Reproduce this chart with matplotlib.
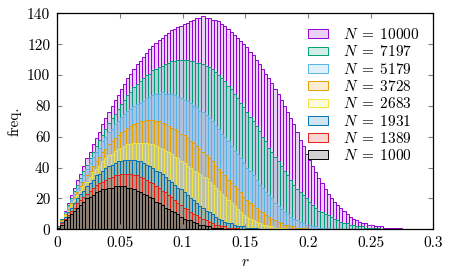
import numpy as np
import matplotlib
matplotlib.use("Agg")
import matplotlib.pyplot as plt
from matplotlib.ticker import MultipleLocator, FormatStrFormatter

plt.rcParams['font.family'] = 'serif'
plt.rcParams['font.serif'] = ['cmr10']
plt.rcParams['mathtext.fontset'] = 'cm'
plt.rcParams['axes.formatter.use_mathtext'] = True
plt.rcParams['font.size'] = 11

bin_width = 0.0025

labels = [r'$N\;=\;10000$', r'$N\;=\;7197$', r'$N\;=\;5179$', r'$N\;=\;3728$',
          r'$N\;=\;2683$', r'$N\;=\;1931$', r'$N\;=\;1389$', r'$N\;=\;1000$']
colors = ['#9400d3', '#009e73', '#56b4e9', '#e69f00',
          '#f0e442', '#0072b2', '#e51e10', '#000000']

# histogram counts per bin
n10000 = [2, 7, 12, 17, 22, 27, 32, 36, 41, 46, 50, 55, 59, 63, 68, 72, 76, 80, 84, 87,
          91, 94, 98, 101, 104, 107, 109, 112, 114, 117, 119, 121, 123, 124, 126, 127, 129, 130, 131, 132,
          133, 134, 135, 136, 137, 137, 138, 137, 137, 136, 136, 135, 133, 132, 130, 128, 126, 124, 122, 120,
          118, 115, 113, 110, 107, 104, 101, 98, 95, 91, 88, 84, 80, 76, 72, 68, 63, 58, 54, 49,
          45, 41, 37, 33, 30, 26, 23, 20, 18, 16, 14, 12, 10, 8, 7, 6, 5, 4, 4, 3,
          3, 2, 2, 2, 1, 1, 1, 1, 1, 1]
n7197 = [2, 7, 11, 16, 20, 25, 29, 33, 38, 42, 46, 50, 54, 58, 61, 65, 69, 72, 75, 78,
         81, 84, 87, 89, 92, 94, 96, 98, 100, 101, 103, 104, 105, 106, 107, 108, 109, 109, 110, 110,
         110, 110, 109, 109, 108, 108, 107, 106, 105, 104, 102, 100, 98, 96, 93, 91, 88, 85, 82, 79,
         76, 73, 70, 67, 64, 60, 57, 53, 50, 47, 44, 41, 38, 35, 32, 29, 26, 24, 22, 20,
         18, 16, 14, 12, 11, 10, 9, 8, 7, 6, 5, 4, 4, 3, 3, 2, 2, 2, 1, 1, 1, 1, 1]
n5179 = [2, 6, 11, 15, 19, 23, 27, 31, 35, 39, 43, 47, 50, 53, 57, 60, 63, 65, 68, 70,
         73, 75, 77, 78, 80, 81, 82, 83, 85, 86, 87, 88, 88, 89, 88, 88, 88, 87, 86, 85,
         84, 83, 82, 80, 79, 77, 76, 74, 72, 70, 67, 65, 62, 60, 57, 54, 51, 49, 46, 43,
         40, 38, 35, 32, 29, 27, 24, 22, 20, 17, 15, 13, 11, 10, 8, 7, 6, 5, 4, 3,
         3, 2, 2, 1, 1, 1, 1]
n3728 = [2, 6, 10, 13, 17, 21, 24, 28, 31, 35, 38, 41, 44, 47, 50, 52, 55, 57, 59, 61,
         63, 64, 66, 67, 68, 69, 70, 70, 71, 71, 71, 70, 70, 69, 68, 67, 66, 65, 64, 62,
         61, 59, 57, 56, 54, 52, 50, 48, 46, 44, 41, 39, 37, 35, 32, 30, 28, 26, 24, 21,
         19, 17, 16, 14, 12, 11, 9, 8, 7, 6, 5, 4, 3, 3, 2, 2, 1, 1, 1, 1]
n2683 = [2, 5, 9, 12, 16, 19, 22, 25, 28, 31, 34, 37, 39, 41, 44, 46, 48, 49, 51, 52,
         53, 54, 55, 55, 56, 56, 56, 56, 56, 55, 55, 54, 53, 52, 51, 50, 49, 47, 46, 44,
         43, 41, 40, 38, 37, 36, 34, 33, 31, 29, 27, 25, 23, 21, 19, 17, 15, 13, 11, 9,
         8, 7, 6, 5, 4, 3, 3, 2, 2, 1, 1, 1, 1]
n1931 = [2, 5, 8, 11, 14, 17, 20, 23, 25, 28, 30, 32, 35, 36, 38, 40, 41, 42, 43, 44,
         44, 45, 45, 45, 45, 44, 44, 43, 42, 41, 40, 38, 37, 36, 34, 32, 31, 29, 27, 26,
         24, 22, 20, 19, 17, 15, 14, 12, 11, 10, 8, 7, 6, 5, 4, 4, 3, 2, 2, 2,
         1, 1, 1, 1]
n1389 = [1, 4, 7, 9, 12, 14, 17, 19, 21, 23, 25, 27, 29, 30, 31, 32, 33, 34, 35, 35,
         36, 36, 36, 36, 35, 35, 34, 33, 32, 31, 30, 28, 27, 25, 24, 22, 21, 19, 17, 16,
         14, 13, 11, 10, 9, 8, 7, 6, 5, 4, 3, 3, 2, 2, 1, 1, 1, 1]
n1000 = [1, 3, 6, 8, 10, 12, 14, 16, 18, 20, 21, 22, 24, 25, 26, 26, 27, 27, 28, 28,
         28, 28, 27, 27, 26, 25, 24, 23, 22, 21, 20, 18, 17, 16, 14, 13, 12, 11, 10, 8,
         7, 6, 6, 5, 4, 3, 3, 2, 2, 1, 1, 1, 1]

series = [n10000, n7197, n5179, n3728, n2683, n1931, n1389, n1000]

fig = plt.figure(figsize=(4.58, 2.73), dpi=100)
ax = fig.add_axes([0.125, 0.160, 0.821, 0.791])

for counts, col, lab in zip(series, colors, labels):
    x = np.arange(len(counts)) * bin_width
    ax.bar(x, counts, width=bin_width, align='edge',
           facecolor=matplotlib.colors.to_rgba(col, 0.18), edgecolor=col,
           linewidth=0.7, label=lab)

ax.set_xlim(0, 0.3)
ax.set_ylim(0, 140)
ax.xaxis.set_major_locator(MultipleLocator(0.05))
ax.yaxis.set_major_locator(MultipleLocator(20))
ax.xaxis.set_major_formatter(FormatStrFormatter('%g'))
ax.yaxis.set_major_formatter(FormatStrFormatter('%g'))
ax.tick_params(direction='in', top=True, right=True, length=3.6,
               width=0.8, color='gray', pad=5)
for s in ax.spines.values():
    s.set_linewidth(0.9)

ax.set_xlabel('$r$')
ax.set_ylabel('freq.')

ax.legend(loc='upper right', frameon=False, handlelength=1.3, handleheight=0.5,
          labelspacing=0.15, handletextpad=1.0, borderaxespad=0.5)

fig.savefig('out.png', dpi=100)
